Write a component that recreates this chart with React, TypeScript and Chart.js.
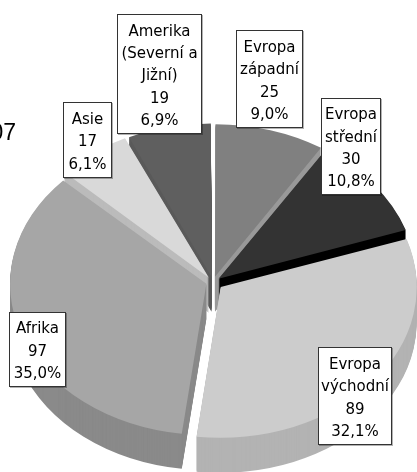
import React, { useEffect, useRef } from "react";
import { Chart, registerables } from "chart.js";

Chart.register(...registerables);

const categories = [
  ["Evropa", "západní"],
  ["Evropa", "střední"],
  ["Evropa", "východní"],
  ["Afrika"],
  ["Asie"],
  ["Amerika", "(Severní a", "Jižní)"],
];
const values = [25, 30, 89, 97, 17, 19];
const percents = ["9,0%", "10,8%", "32,1%", "35,0%", "6,1%", "6,9%"];
const topColors = ["#808080", "#333333", "#cccccc", "#a6a6a6", "#d9d9d9", "#5f5f5f"];
const wallColors = ["#999999", "#000000", "#b3b3b3", "#8a8a8a", "#bbbbbb", "#5a5a5a"];
const explode = [28, 28, 40, 28, 28, 28];
const drawOrder = [5, 0, 4, 1, 3, 2];
const clippedTitle = "2007";

// label boxes: left, top, right, bottom
const boxes = [
  [236, 30, 303, 128],
  [321, 98, 381, 195],
  [318, 347, 392, 445],
  [9, 312, 66, 387],
  [63, 102, 112, 178],
  [117, 14, 202, 134],
];

const SQUASH = 0.77;
const CENTER_Y = 282;
const DEPTH = 35;
const FONT = "15px 'DejaVu Sans'";
const LINE = 22.4;
const TEXT_SHIFT = 2.5;

const pie3d = {
  id: "pie3d",
  beforeDatasetsDraw(chart: any) {
    const { ctx, chartArea } = chart;
    const mid = (chartArea.top + chartArea.bottom) / 2;
    ctx.save();
    ctx.translate(0, CENTER_Y);
    ctx.scale(1, SQUASH);
    ctx.translate(0, -mid);
    const arcs = chart.getDatasetMeta(0).data;
    for (const i of drawOrder) {
      const arc = arcs[i];
      const saved = arc.options;
      arc.options = { ...saved, backgroundColor: wallColors[i], borderColor: wallColors[i] };
      for (let d = DEPTH; d >= 1; d--) {
        ctx.save();
        ctx.translate(0, d / SQUASH);
        arc.draw(ctx);
        ctx.restore();
      }
      arc.options = saved;
    }
  },
  afterDatasetsDraw(chart: any) {
    const { ctx } = chart;
    ctx.restore();
    ctx.save();
    ctx.font = FONT;
    ctx.textBaseline = "middle";
    ctx.textAlign = "center";
    categories.forEach((name, i) => {
      const [l, t, r, b] = boxes[i];
      ctx.fillStyle = "rgba(0,0,0,0.3)";
      ctx.fillRect(l + 1, t + 1, r - l, b - t);
      ctx.fillStyle = "#ffffff";
      ctx.fillRect(l, t, r - l, b - t);
      ctx.strokeStyle = "#333333";
      ctx.lineWidth = 1;
      ctx.strokeRect(l + 0.5, t + 0.5, r - l - 1, b - t - 1);
      const lines = [...name, String(values[i]), percents[i]];
      const cx = (l + r) / 2;
      const y0 = (t + b) / 2 - ((lines.length - 1) * LINE) / 2 + TEXT_SHIFT;
      ctx.fillStyle = "#000000";
      lines.forEach((s, k) => ctx.fillText(s, cx, y0 + k * LINE));
    });
    ctx.textAlign = "right";
    ctx.textBaseline = "alphabetic";
    ctx.font = "23px 'Liberation Sans'";
    ctx.fillText(clippedTitle, 16, 140);
    ctx.restore();
  },
};

export default function App() {
  const ref = useRef<HTMLCanvasElement>(null);
  useEffect(() => {
    const chart = new Chart(ref.current!, {
      type: "pie",
      data: {
        labels: categories.map((c) => c.join(" ")),
        datasets: [
          {
            data: values,
            backgroundColor: topColors,
            borderWidth: 0,
            offset: explode,
            clip: false,
          } as any,
        ],
      },
      options: {
        animation: false,
        responsive: false,
        radius: 195,
        layout: { padding: { left: 9 } },
        plugins: { legend: { display: false }, tooltip: { enabled: false } },
      } as any,
      plugins: [pie3d],
    });
    return () => chart.destroy();
  }, []);
  return (
    <div style={{ position: "fixed", left: 0, top: 0, width: 417, height: 472, background: "#fff" }}>
      <canvas ref={ref} width={417} height={472} style={{ display: "block" }} />
    </div>
  );
}
